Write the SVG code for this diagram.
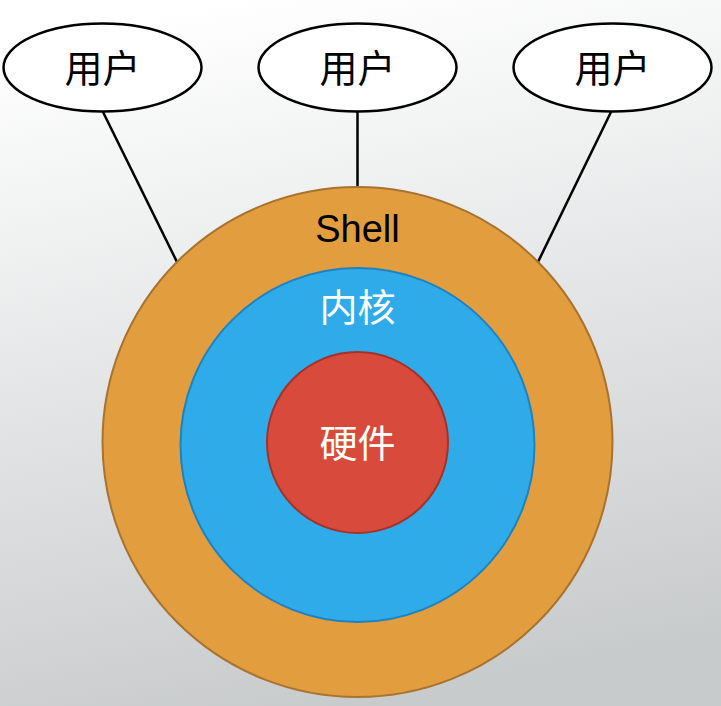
<svg xmlns="http://www.w3.org/2000/svg" width="721" height="706" viewBox="0 0 721 706">
<defs>
<linearGradient id="bg" x1="0.3" y1="0" x2="0.5" y2="1">
<stop offset="0" stop-color="#ffffff"/>
<stop offset="1" stop-color="#c8cbcc"/>
</linearGradient>
<style>
.user{fill:#ffffff;stroke:#000;stroke-width:2.5}
.lbl{font-family:"Liberation Sans","Noto Sans CJK SC",sans-serif;font-size:38px;text-anchor:middle}
.conn{stroke:#000;stroke-width:2.5;fill:none}
</style>
</defs>
<rect width="721" height="706" fill="url(#bg)"/>
<g id="connectors">
<line class="conn" x1="103" y1="112" x2="178" y2="264"/>
<line class="conn" x1="357.5" y1="112" x2="357.5" y2="188"/>
<line class="conn" x1="611" y1="112" x2="537" y2="264"/>
</g>
<g id="shell">
<circle cx="357.5" cy="442" r="255" fill="#e29d3e" stroke="#a8722f" stroke-width="2"/>
<text class="lbl" x="357.5" y="242" fill="#000">Shell</text>
</g>
<g id="kernel">
<circle cx="357.5" cy="445" r="177" fill="#30abea" stroke="#1f82c0" stroke-width="2"/>
<text class="lbl" x="357.5" y="321" fill="#fff">内核</text>
</g>
<g id="hardware">
<circle cx="357.5" cy="442.5" r="90.5" fill="#d84b3c" stroke="#a3322a" stroke-width="2"/>
<text class="lbl" x="357.5" y="457" fill="#fff">硬件</text>
</g>
<g id="user1">
<ellipse class="user" cx="102.5" cy="67.5" rx="99" ry="44"/>
<text class="lbl" x="102.5" y="82" fill="#000">用户</text>
</g>
<g id="user2">
<ellipse class="user" cx="357.5" cy="67.5" rx="99" ry="44"/>
<text class="lbl" x="357.5" y="82" fill="#000">用户</text>
</g>
<g id="user3">
<ellipse class="user" cx="612.5" cy="67.5" rx="99" ry="44"/>
<text class="lbl" x="612.5" y="82" fill="#000">用户</text>
</g>
</svg>
